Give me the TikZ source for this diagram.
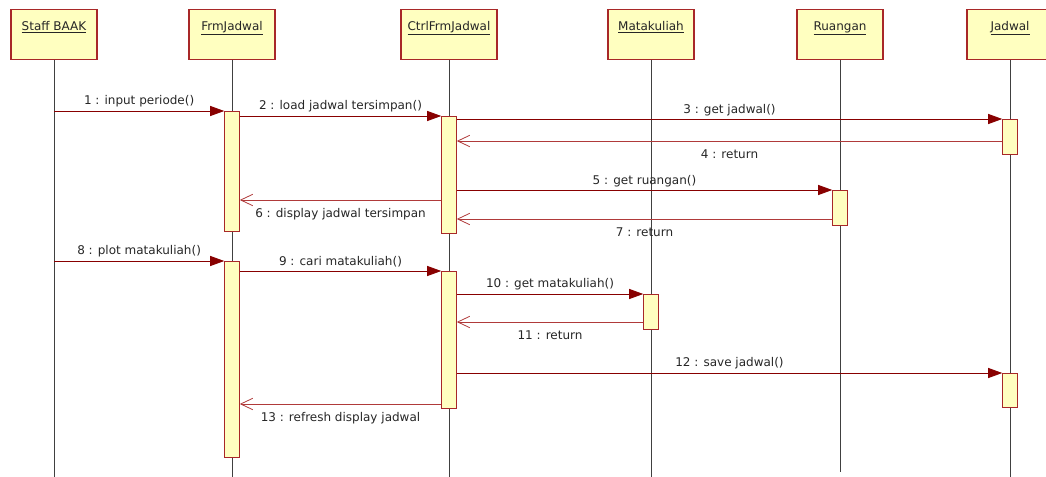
\documentclass[tikz,border=0pt]{standalone}
\usepackage{fontspec}
\setmainfont{DejaVu Sans}
\usetikzlibrary{arrows.meta,positioning}

\definecolor{umlfill}{HTML}{FFFFC0}
\definecolor{umlline}{HTML}{A82828}
\definecolor{umlcall}{HTML}{880000}
\definecolor{umlret}{HTML}{B03A3A}

\begin{document}
\begin{tikzpicture}[
        x=0.75pt, y=-0.75pt,
        obj/.style={rectangle, draw=umlline, line width=0.9pt, fill=umlfill, anchor=north,
            minimum width=64.5pt, minimum height=37.5pt, inner xsep=0pt, inner ysep=0pt,
            text height=15.6pt, text depth=21.9pt, font=\fontsize{9}{10}\selectfont, text=black!85},
        act/.style={rectangle, draw=umlline, fill=umlfill, anchor=north,
            minimum width=11.25pt, inner sep=0pt},
        life/.style={draw=black!75, line width=0.6pt},
        call/.style={draw=umlcall, line width=0.6pt, -{Triangle[length=10.5pt,width=7.5pt]}},
        ret/.style={draw=umlret, line width=0.6pt, -{Straight Barb[length=9pt,width=8.5pt,line width=0.6pt]}},
        msg/.style={font=\fontsize{9}{10}\selectfont, text=black!85, inner sep=1.5pt}
    ]
    \useasboundingbox (0,0) rectangle (1046,477);

    % objects
    \node[obj] (staff) at (54,9) {\underline{Staff BAAK}};
    \node[obj] (frm) at (232,9) {\underline{FrmJadwal}};
    \node[obj, minimum width=72pt] (ctrl) at (449,9) {\underline{CtrlFrmJadwal}};
    \node[obj] (mk) at (651,9) {\underline{Matakuliah}};
    \node[obj] (ruang) at (840,9) {\underline{Ruangan}};
    \node[obj] (jadwal) at (1010,9) {\underline{Jadwal}};

    % lifelines
    \coordinate (bot) at (0,477);
    \coordinate (botR) at (0,472);
    \foreach \o in {staff,frm,ctrl,mk,jadwal}
        \draw[life] (\o.south) -- (\o.south |- bot);
    \draw[life] (ruang.south) -- (ruang.south |- botR);

    % activations
    \node[act, minimum height=90pt] (frmA1) at (232,111) {};
    \node[act, minimum height=87.75pt] (ctrlA1) at (449,116) {};
    \node[act, minimum height=26.25pt] (jadA1) at (1010,119) {};
    \node[act, minimum height=26.25pt] (ruangA1) at (840,190) {};
    \node[act, minimum height=147pt] (frmA2) at (232,261) {};
    \node[act, minimum height=102.75pt] (ctrlA2) at (449,271) {};
    \node[act, minimum height=26.25pt] (mkA1) at (651,294) {};
    \node[act, minimum height=25.5pt] (jadA2) at (1010,373) {};

    % messages
    \draw[call] (staff.south |- frmA1.north) -- node[msg, above=1.5pt] {1 : input periode()} (frmA1.north west);
    \draw[call] (frmA1.east |- ctrlA1.north) -- node[msg, above=1.5pt] {2 : load jadwal tersimpan()} (ctrlA1.north west);
    \draw[call] (ctrlA1.east |- jadA1.north) -- node[msg, above=0.5pt] {3 : get jadwal()} (jadA1.north west);
    \draw[ret] (jadA1.west |- 0,141) -- node[msg, below=4.5pt] {4 : return} (ctrlA1.east |- 0,141);
    \draw[call] (ctrlA1.east |- ruangA1.north) -- node[msg, above=0.5pt] {5 : get ruangan()} (ruangA1.north west);
    \draw[ret] (ctrlA1.west |- 0,200) -- node[msg, below=4.5pt] {6 : display jadwal tersimpan} (frmA1.east |- 0,200);
    \draw[ret] (ruangA1.west |- 0,219) -- node[msg, below=4.5pt] {7 : return} (ctrlA1.east |- 0,219);
    \draw[call] (staff.south |- frmA2.north) -- node[msg, above=1.5pt] {8 : plot matakuliah()} (frmA2.north west);
    \draw[call] (frmA2.east |- ctrlA2.north) -- node[msg, above=1.5pt] {9 : cari matakuliah()} (ctrlA2.north west);
    \draw[call] (ctrlA2.east |- mkA1.north) -- node[msg, above=1.5pt] {10 : get matakuliah()} (mkA1.north west);
    \draw[ret] (mkA1.west |- 0,322) -- node[msg, below=4.5pt] {11 : return} (ctrlA2.east |- 0,322);
    \draw[call] (ctrlA2.east |- jadA2.north) -- node[msg, above=1.5pt] {12 : save jadwal()} (jadA2.north west);
    \draw[ret] (ctrlA2.west |- 0,404) -- node[msg, below=4.5pt] {13 : refresh display jadwal} (frmA2.east |- 0,404);
\end{tikzpicture}
\end{document}
